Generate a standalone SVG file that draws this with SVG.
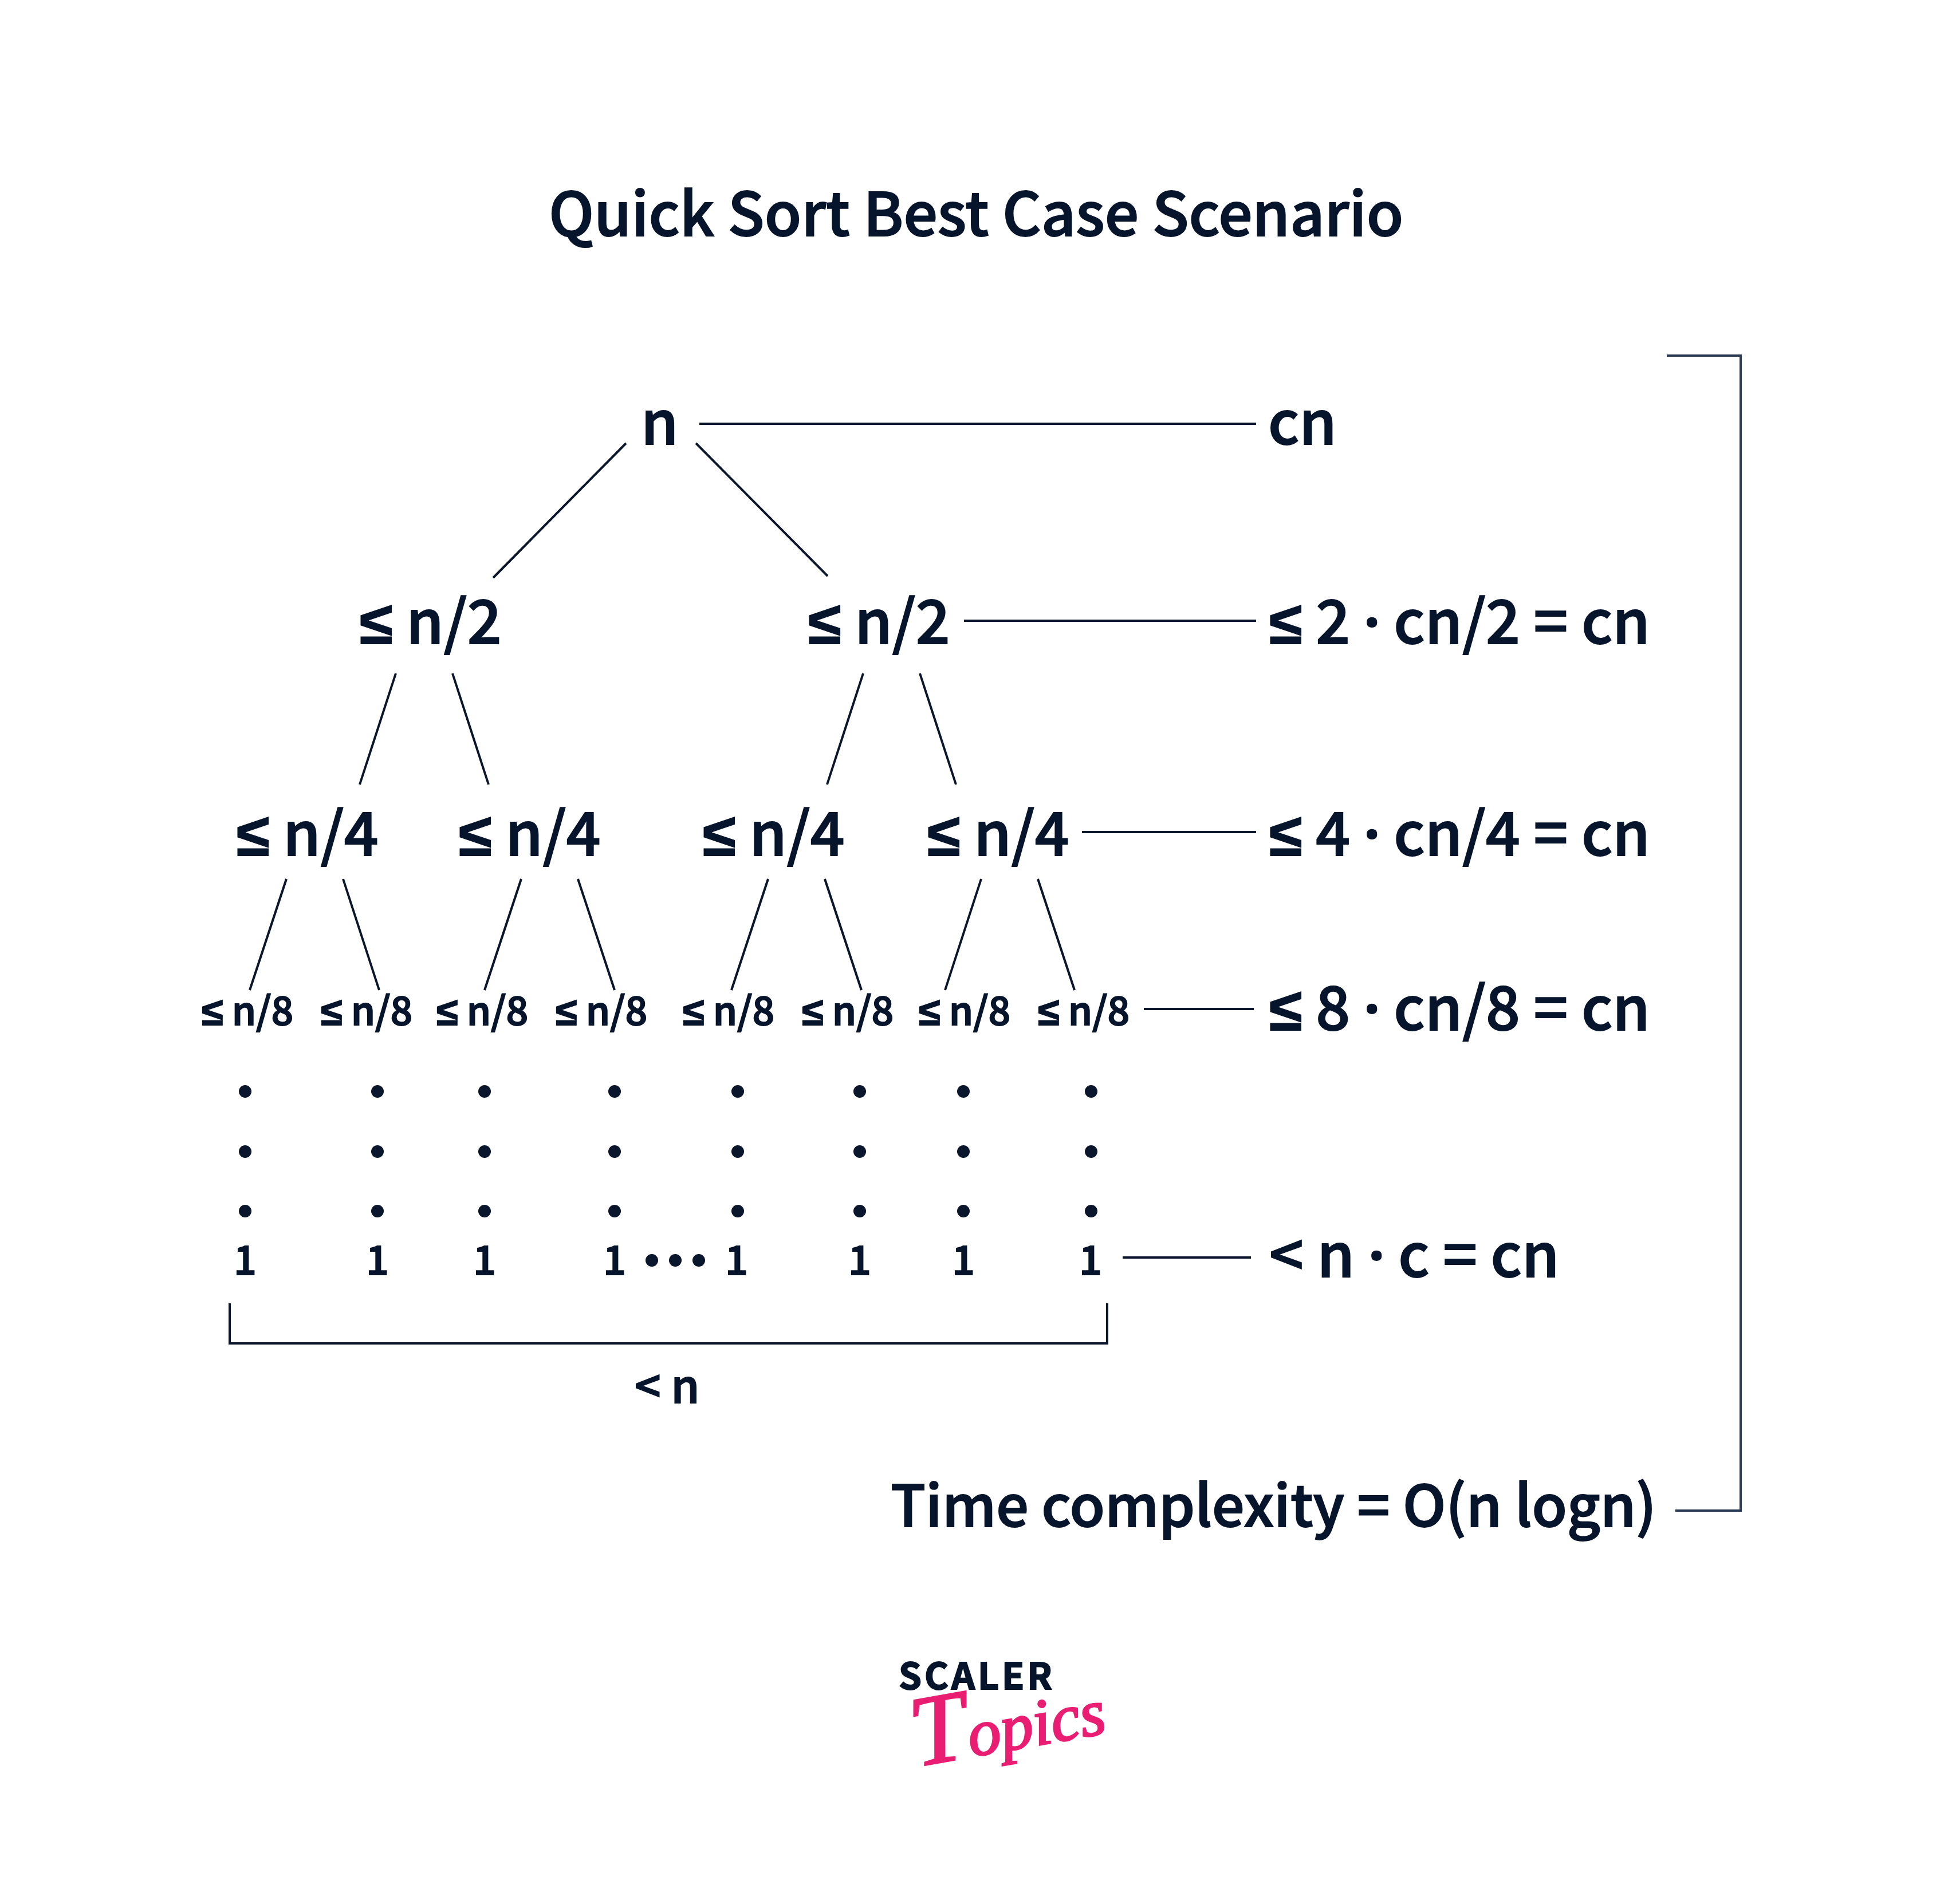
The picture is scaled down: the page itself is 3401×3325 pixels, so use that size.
<svg xmlns="http://www.w3.org/2000/svg" width="3401" height="3325" viewBox="0 0 3401 3325">
<style>
text{font-family:"Noto Sans CJK SC","Noto Sans",sans-serif;font-weight:500;fill:#06142c;stroke:#06142c;stroke-width:2}
.s{font-family:"Noto Sans",sans-serif;font-weight:600}
.a{font-size:105px}.b{font-size:105px}.c{font-size:68px}.d{font-size:70px}.e{font-size:80px}.f{font-size:100px}
.l{stroke:#0a162b;stroke-width:4;fill:none}
.r{stroke:#2b3a55;stroke-width:4;fill:none}
.dot{fill:#0a162b}
.t{font-family:"Liberation Serif",serif;font-style:italic;font-weight:400;fill:#e91e73;stroke:#e91e73;stroke-width:3}
</style>
<rect width="3401" height="3325" fill="#fff"/>
<g id="title"><text class="a" x="958" y="412">Quick Sort Best Case Scenario</text></g>
<g id="connectors">
<path class="l" d="M1221 740H2193M1093 774L861 1009M1215 774L1445 1006M1683 1084H2193M1889 1453H2193M1997 1762H2189M1960 2196H2184"/>
<path class="l" d="M691 1176L628 1370M790 1176L853 1370M1507 1176L1444 1370M1606 1176L1669 1370"/>
<path class="l" d="M500 1535L436 1729M599 1535L662 1729M910 1535L846 1729M1009 1535L1073 1729M1341 1535L1277 1729M1440 1535L1504 1729M1713 1535L1650 1729M1812 1535L1876 1729"/>
<path class="l" d="M401 2276V2346H1933V2276"/>
<path class="r" d="M2910 621H3039V2638H2925"/>
</g>
<g id="n-root"><text class="b" x="1119" y="776">n</text></g>
<g id="cost-0"><text class="b" x="2214" y="776">cn</text></g>
<g id="n2-a"><text class="b" x="628" y="1124"><tspan class="s">≤</tspan> n/2</text></g>
<g id="n2-b"><text class="b" x="1411" y="1124"><tspan class="s">≤</tspan> n/2</text></g>
<g id="cost-1"><text class="b" x="2216" y="1124"><tspan class="s">≤</tspan> 2 <tspan class="s">·</tspan> cn/2 = cn</text></g>
<g id="n4-a"><text class="b" x="413" y="1494"><tspan class="s">≤</tspan> n/4</text></g>
<g id="n4-b"><text class="b" x="801" y="1494"><tspan class="s">≤</tspan> n/4</text></g>
<g id="n4-c"><text class="b" x="1227" y="1494"><tspan class="s">≤</tspan> n/4</text></g>
<g id="n4-d"><text class="b" x="1619" y="1494"><tspan class="s">≤</tspan> n/4</text></g>
<g id="cost-2"><text class="b" x="2216" y="1494"><tspan class="s">≤</tspan> 4 <tspan class="s">·</tspan> cn/4 = cn</text></g>
<g id="n8-labels">
<text class="c" x="352" y="1790"><tspan class="s">≤</tspan> n/8</text><text class="c" x="560" y="1790"><tspan class="s">≤</tspan> n/8</text><text class="c" x="762" y="1790"><tspan class="s">≤</tspan> n/8</text><text class="c" x="970" y="1790"><tspan class="s">≤</tspan> n/8</text><text class="c" x="1192" y="1790"><tspan class="s">≤</tspan> n/8</text><text class="c" x="1400" y="1790"><tspan class="s">≤</tspan> n/8</text><text class="c" x="1604" y="1790"><tspan class="s">≤</tspan> n/8</text><text class="c" x="1812" y="1790"><tspan class="s">≤</tspan> n/8</text>
</g>
<g id="cost-3"><text class="b" x="2216" y="1799"><tspan class="s">≤</tspan> 8 <tspan class="s">·</tspan> cn/8 = cn</text></g>
<g id="dots">
<circle class="dot" cx="428" cy="1906" r="11"/><circle class="dot" cx="428" cy="2011" r="11"/><circle class="dot" cx="428" cy="2115" r="11"/>
<circle class="dot" cx="659" cy="1906" r="11"/><circle class="dot" cx="659" cy="2011" r="11"/><circle class="dot" cx="659" cy="2115" r="11"/>
<circle class="dot" cx="846" cy="1906" r="11"/><circle class="dot" cx="846" cy="2011" r="11"/><circle class="dot" cx="846" cy="2115" r="11"/>
<circle class="dot" cx="1073" cy="1906" r="11"/><circle class="dot" cx="1073" cy="2011" r="11"/><circle class="dot" cx="1073" cy="2115" r="11"/>
<circle class="dot" cx="1288" cy="1906" r="11"/><circle class="dot" cx="1288" cy="2011" r="11"/><circle class="dot" cx="1288" cy="2115" r="11"/>
<circle class="dot" cx="1501" cy="1906" r="11"/><circle class="dot" cx="1501" cy="2011" r="11"/><circle class="dot" cx="1501" cy="2115" r="11"/>
<circle class="dot" cx="1682" cy="1906" r="11"/><circle class="dot" cx="1682" cy="2011" r="11"/><circle class="dot" cx="1682" cy="2115" r="11"/>
<circle class="dot" cx="1905" cy="1906" r="11"/><circle class="dot" cx="1905" cy="2011" r="11"/><circle class="dot" cx="1905" cy="2115" r="11"/>
<circle class="dot" cx="1138" cy="2201" r="11"/><circle class="dot" cx="1179" cy="2201" r="11"/><circle class="dot" cx="1220" cy="2201" r="11"/>
</g>
<g id="ones">
<text class="d" x="408" y="2226">1</text><text class="d" x="639" y="2226">1</text><text class="d" x="826" y="2226">1</text><text class="d" x="1053" y="2226">1</text><text class="d" x="1266" y="2226">1</text><text class="d" x="1481" y="2226">1</text><text class="d" x="1662" y="2226">1</text><text class="d" x="1884" y="2226">1</text>
</g>
<g id="cost-4"><text class="b" x="2216" y="2230">&lt; n <tspan class="s">·</tspan> c = cn</text></g>
<g id="count"><text class="e" x="1108" y="2450">&lt; n</text></g>
<g id="result"><text class="f" x="1555" y="2666">Time complexity = O(n logn)</text></g>
<g id="logo">
<text x="1569" y="2950" style="font-size:64px;font-weight:700;letter-spacing:5px">SCALER</text>
<text class="t" x="1600" y="3085" transform="rotate(-10 1600 3085)"><tspan style="font-size:175px">T</tspan><tspan style="font-size:115px">opics</tspan></text>
</g>
</svg>
